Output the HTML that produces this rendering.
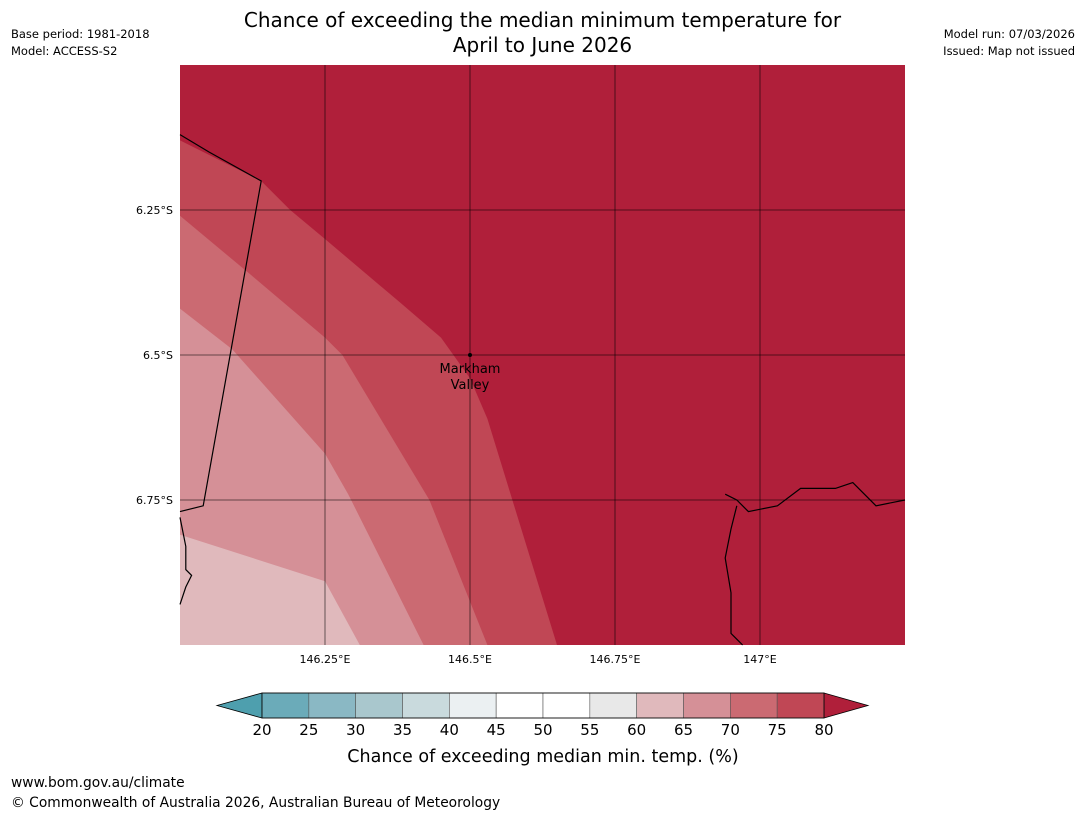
<!DOCTYPE html>
<html><head><meta charset="utf-8">
<style>
body{margin:0;background:#fff;font-family:"Liberation Sans","DejaVu Sans",sans-serif;}
#wrap{position:relative;width:1085px;height:816px;overflow:hidden;}
.t{position:absolute;white-space:nowrap;color:#000;}
</style></head>
<body>
<div id="wrap">
<div class="t" style="left:0;width:1085px;top:8px;text-align:center;font-size:20px;line-height:25px;font-family:'DejaVu Sans',sans-serif;">Chance of exceeding the median minimum temperature for<br>April to June 2026</div>
<div class="t" style="left:11px;top:27px;font-size:11.5px;font-family:'DejaVu Sans',sans-serif;">Base period: 1981-2018</div>
<div class="t" style="left:11px;top:44px;font-size:11.5px;font-family:'DejaVu Sans',sans-serif;">Model: ACCESS-S2</div>
<div class="t" style="right:10px;top:27px;font-size:11.5px;font-family:'DejaVu Sans',sans-serif;">Model run: 07/03/2026</div>
<div class="t" style="right:10px;top:44px;font-size:11.5px;font-family:'DejaVu Sans',sans-serif;">Issued: Map not issued</div>
<svg id="svg" width="1085" height="816" style="position:absolute;left:0;top:0"></svg>
<div class="t" style="left:11px;top:775px;font-size:13.8px;font-family:'DejaVu Sans',sans-serif;">www.bom.gov.au/climate</div>
<div class="t" style="left:11px;top:795px;font-size:13.8px;font-family:'DejaVu Sans',sans-serif;">© Commonwealth of Australia 2026, Australian Bureau of Meteorology</div>
</div>
<script>
const lonTicks=[146.25,146.5,146.75,147];
const lonLabels=["146.25°E","146.5°E","146.75°E","147°E"];
const latTicks=[6.25,6.5,6.75];
const latLabels=["6.25°S","6.5°S","6.75°S"];
const bandColors=["#b01f3a","#c04755","#cb6a72","#d59097","#e0b9bc"];
const contour80=[[146,6.13],[146.14,6.2],[146.19,6.25],[146.25,6.3],[146.38,6.41],[146.45,6.47],[146.5,6.54],[146.53,6.61],[146.57,6.74],[146.65,7]];
const contour75=[[146,6.26],[146.12,6.36],[146.25,6.47],[146.28,6.5],[146.34,6.6],[146.43,6.75],[146.53,7]];
const contour70=[[146,6.42],[146.09,6.49],[146.25,6.67],[146.29,6.74],[146.42,7]];
const contour65=[[146,6.81],[146.25,6.89],[146.31,7]];
const cbValues=[20,25,30,35,40,45,50,55,60,65,70,75,80];
const cbColors=["#6babb9","#8ab8c4","#a9c7cd","#c9dadd","#ebf0f2","#ffffff","#ffffff","#e8e8e8","#e0b9bc","#d59097","#cb6a72","#c04755"];
const cbLow="#4e9fae", cbHigh="#b01f3a";
const coastPNG=[[146,6.12],[146.05,6.15],[146.14,6.2],[146.04,6.76],[146,6.77]];
const coastW=[[146,6.78],[146.01,6.83],[146.01,6.87],[146.02,6.88],[146.01,6.9],[146,6.93]];
const coastE=[[146.94,6.74],[146.96,6.75],[146.98,6.77],[147.03,6.76],[147.07,6.73],[147.1,6.73],[147.13,6.73],[147.16,6.72],[147.18,6.74],[147.2,6.76],[147.25,6.75]];
const coastE2=[[146.96,6.76],[146.95,6.8],[146.94,6.85],[146.95,6.91],[146.95,6.98],[146.96,6.99],[146.97,7]];

const X0=180,X1=905,Y0=65,Y1=645,L0=146,L1=147.25,A0=6,A1=7;
const xs=l=>X0+(l-L0)/(L1-L0)*(X1-X0);
const ys=a=>Y0+(a-A0)/(A1-A0)*(Y1-Y0);
const svg=document.getElementById('svg');
const NS="http://www.w3.org/2000/svg";
function mk(tag,attrs,parent){const e=document.createElementNS(NS,tag);for(const k in attrs)e.setAttribute(k,attrs[k]);(parent||svg).appendChild(e);return e;}
const pts=c=>c.map(p=>xs(p[0])+","+ys(p[1])).join(" ");
let r=mk('rect',{x:X0,y:Y0,width:X1-X0,height:Y1-Y0,fill:bandColors[0]});

const cs=[contour80,contour75,contour70,contour65];
const names=['band-75-80','band-70-75','band-65-70','band-60-65'];
cs.forEach((c,i)=>{
  const p=mk('polygon',{points:pts(c)+" "+X0+","+Y1,fill:bandColors[i+1]});
  
  
});
lonTicks.forEach((l,i)=>{
  const g=mk('line',{x1:xs(l),x2:xs(l),y1:Y0,y2:Y1,stroke:"#000","stroke-width":0.8,"stroke-opacity":0.7});
  
  const t=mk('text',{x:xs(l),y:Y1+18,"font-size":11,"text-anchor":"middle","font-family":"DejaVu Sans,sans-serif"});
  t.textContent=lonLabels[i];
  
});
latTicks.forEach((a,i)=>{
  const g=mk('line',{x1:X0,x2:X1,y1:ys(a),y2:ys(a),stroke:"#000","stroke-width":0.8,"stroke-opacity":0.7});
  
  const t=mk('text',{x:X0-7,y:ys(a)+4,"font-size":11,"text-anchor":"end","font-family":"DejaVu Sans,sans-serif"});
  t.textContent=latLabels[i];
  
});
[coastPNG,coastW,coastE,coastE2].forEach(c=>{
  const l=mk('polyline',{points:pts(c),fill:"none",stroke:"#000","stroke-width":1.2});
  
});
const m=mk('circle',{cx:xs(146.5),cy:ys(6.5),r:2,fill:"#000"});

const lt=mk('text',{x:xs(146.5),y:ys(6.5)+18,"font-size":13,"text-anchor":"middle","font-family":"DejaVu Sans,sans-serif"});
lt.innerHTML='<tspan x="'+xs(146.5)+'">Markham</tspan><tspan x="'+xs(146.5)+'" dy="16">Valley</tspan>';

const C0=262,C1=824,CY0=693,CY1=718;
const cx=v=>C0+(v-cbValues[0])/(cbValues[cbValues.length-1]-cbValues[0])*(C1-C0);
const lo=mk('polygon',{points:`217,${(CY0+CY1)/2} ${C0},${CY0} ${C0},${CY1}`,fill:cbLow,stroke:"#000","stroke-width":0.8});

const hi=mk('polygon',{points:`868,${(CY0+CY1)/2} ${C1},${CY0} ${C1},${CY1}`,fill:cbHigh,stroke:"#000","stroke-width":0.8});

cbColors.forEach((c,i)=>{
  const b=mk('rect',{x:cx(cbValues[i]),y:CY0,width:cx(cbValues[i+1])-cx(cbValues[i]),height:CY1-CY0,fill:c,stroke:"#555","stroke-width":0.6});
  
});
mk('rect',{x:C0,y:CY0,width:C1-C0,height:CY1-CY0,fill:"none",stroke:"#000","stroke-width":0.8});
cbValues.forEach(v=>{
  const t=mk('text',{x:cx(v),y:CY1+17,"font-size":15,"text-anchor":"middle","font-family":"DejaVu Sans,sans-serif"});
  t.textContent=v;
  
});
const ct=mk('text',{x:543,y:762,"font-size":17.5,"text-anchor":"middle","font-family":"DejaVu Sans,sans-serif"});
ct.textContent="Chance of exceeding median min. temp. (%)";

</script>
</body></html>
